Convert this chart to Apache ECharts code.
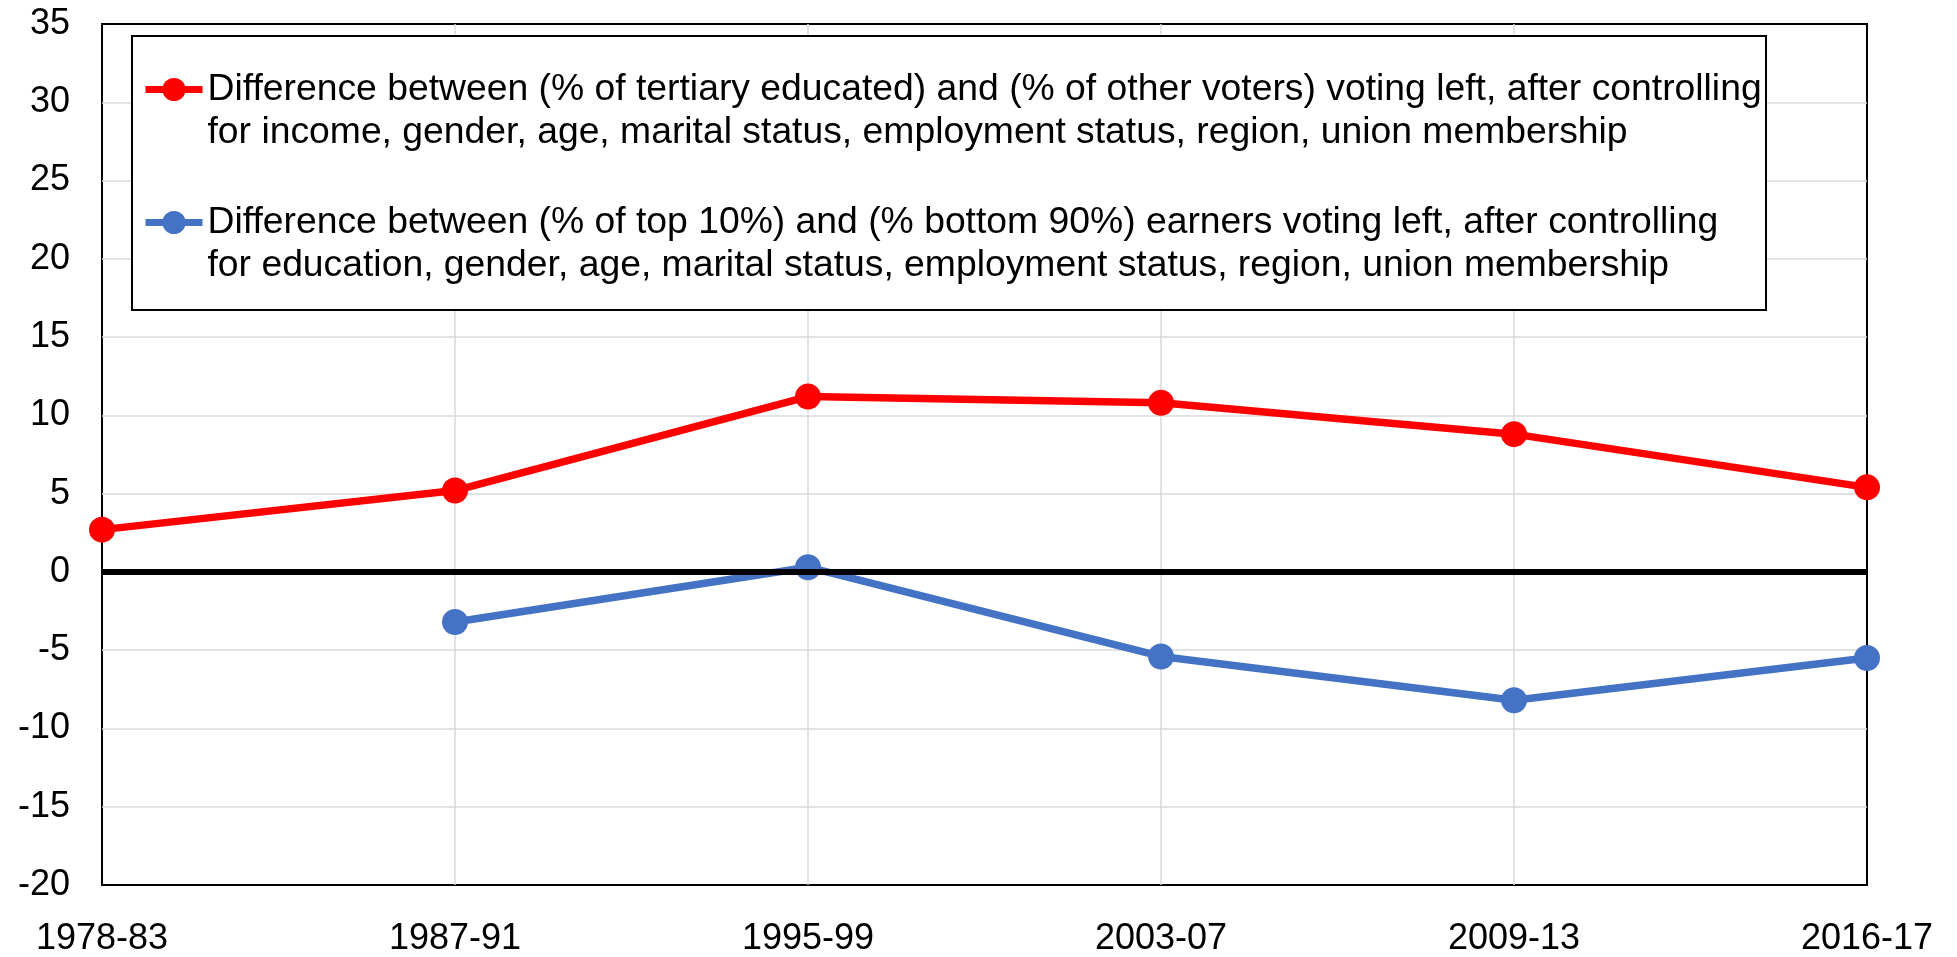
<!DOCTYPE html>
<html>
<head>
<meta charset="utf-8">
<title>Left vote by education and income</title>
<script src="https://cdn.jsdelivr.net/npm/echarts@6/dist/echarts.min.js"></script>
<style>
  html, body { margin: 0; padding: 0; background: #fff; }
  #main { width: 1957px; height: 957px; }
</style>
</head>
<body>
<div id="main"></div>
<script>
// periods on the x axis
var periods = ['1978-83', '1987-91', '1995-99', '2003-07', '2009-13', '2016-17'];
// tertiary educated vs other voters (red)
var eduGap = [2.7, 5.2, 11.2, 10.8, 8.8, 5.4];
// top 10% vs bottom 90% earners (blue), no value for the first period
var incomeGap = [null, -3.2, 0.3, -5.4, -8.2, -5.5];

var eduName = 'Difference between (% of tertiary educated) and (% of other voters) voting left, after controlling\nfor income, gender, age, marital status, employment status, region, union membership';
var incomeName = 'Difference between (% of top 10%) and (% bottom 90%) earners voting left, after controlling\nfor education, gender, age, marital status, employment status, region, union membership';

var font = '"Liberation Sans", Arial, sans-serif';
var lastIdx = periods.length - 1;

var myChart = echarts.init(document.getElementById('main'));

myChart.setOption({
    animation: false,
    grid: {
        left: 102, right: 90, top: 24, bottom: 71,
        show: true,
        borderColor: '#000',
        borderWidth: 2,
        backgroundColor: 'transparent'
    },
    // box drawn behind the legend
    graphic: [{
        type: 'rect',
        z: 3,
        shape: { x: 132, y: 36, width: 1634, height: 274 },
        style: { fill: '#fff', stroke: '#000', lineWidth: 2 }
    }],
    legend: {
        orient: 'vertical',
        left: 142,
        top: 25,
        padding: 0,
        itemGap: 4,
        itemWidth: 57,
        itemHeight: 29,
        selectedMode: false,
        // a blank first line keeps the icon on the first text row
        formatter: function (name) { return '\n' + name; },
        textStyle: { fontSize: 37.3, lineHeight: 43, color: '#000', fontFamily: font },
        lineStyle: { width: 7 },
        data: [eduName, incomeName]
    },
    xAxis: {
        type: 'category',
        data: periods,
        boundaryGap: false,
        axisLine: { onZero: false, show: false },
        axisTick: { show: false },
        axisLabel: { fontSize: 36, color: '#000', fontFamily: font, margin: 36, interval: 0 },
        splitLine: {
            show: true,
            interval: function (index) { return index !== 0 && index !== lastIdx; },
            lineStyle: { color: '#d9d9d9', width: 1.5 }
        }
    },
    yAxis: {
        type: 'value',
        min: -20, max: 35, interval: 5,
        axisLine: { show: false },
        axisTick: { show: false },
        axisLabel: { fontSize: 36, color: '#000', fontFamily: font, margin: 32 },
        splitLine: {
            show: true,
            showMinLine: false,
            showMaxLine: false,
            lineStyle: { color: '#d9d9d9', width: 1.5 }
        }
    },
    series: [
        {
            name: eduName,
            type: 'line',
            data: eduGap,
            symbol: 'circle',
            symbolSize: 26,
            color: '#ff0000',
            lineStyle: { width: 7.5, color: '#ff0000' },
            itemStyle: { color: '#ff0000' },
            markLine: {
                silent: true,
                symbol: 'none',
                label: { show: false },
                lineStyle: { color: '#000', width: 6, type: 'solid' },
                data: [{ yAxis: 0 }]
            }
        },
        {
            name: incomeName,
            type: 'line',
            data: incomeGap,
            symbol: 'circle',
            symbolSize: 26,
            color: '#4472c4',
            lineStyle: { width: 7.5, color: '#4472c4' },
            itemStyle: { color: '#4472c4' }
        }
    ]
});
</script>
</body>
</html>
